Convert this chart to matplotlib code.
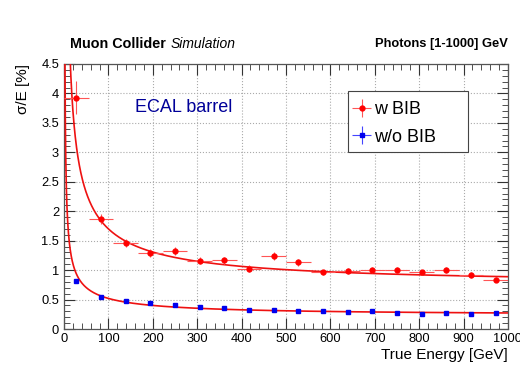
import numpy as np
import matplotlib
matplotlib.use("Agg")
import matplotlib.pyplot as plt
from matplotlib.ticker import MultipleLocator
from matplotlib.patches import Rectangle

plt.rcParams['font.family'] = ['Liberation Sans', 'DejaVu Sans']

# energy bins: 18 bins over [0, 1000] GeV
e_centers = [27.8, 83.3, 138.9, 194.4, 250.0, 305.6, 361.1, 416.7, 472.2,
             527.8, 583.3, 638.9, 694.4, 750.0, 805.6, 861.1, 916.7, 972.2]
e_halfwidth = [27.8] * 18

# resolution with beam-induced background
res_bib = [3.93, 1.87, 1.46, 1.29, 1.32, 1.16, 1.17, 1.02, 1.24,
           1.13, 0.96, 0.99, 1.00, 1.00, 0.96, 1.00, 0.92, 0.84]
res_bib_err = [0.28, 0.09, 0.07, 0.07, 0.07, 0.06, 0.06, 0.06, 0.06,
               0.06, 0.05, 0.05, 0.05, 0.05, 0.05, 0.05, 0.05, 0.05]

# resolution without background
res_nobib = [0.82, 0.55, 0.47, 0.44, 0.40, 0.37, 0.36, 0.33, 0.32,
             0.31, 0.31, 0.29, 0.30, 0.28, 0.25, 0.27, 0.26, 0.28]
res_nobib_err = [0.03, 0.015, 0.012, 0.01, 0.01, 0.01, 0.01, 0.01, 0.01,
                 0.01, 0.01, 0.01, 0.01, 0.01, 0.01, 0.01, 0.01, 0.01]

# fit parameters: sigma/E = a/sqrt(E) (+) b/E (+) c
fit_bib = (15.0, 28.0, 0.75)
fit_nobib = (4.6, 7.0, 0.23)


def resolution(e, a, b, c):
    return np.sqrt(a**2 / e + b**2 / e**2 + c**2)


fig = plt.figure(figsize=(5.2, 3.66), dpi=100)
ax = fig.add_axes([64 / 520, 1 - 329 / 366, 444 / 520, 265 / 366])

e_fit = np.linspace(1, 1000, 3000)
ax.plot(e_fit, resolution(e_fit, *fit_bib), color='#ee1111', lw=1.2, zorder=3)
ax.plot(e_fit, resolution(e_fit, *fit_nobib), color='#ee1111', lw=1.2, zorder=3)

bib_style = dict(fmt='o', ms=3.5, color='#ff0000', ecolor='#ff5555',
                 elinewidth=0.8, capsize=0, zorder=4)
nobib_style = dict(fmt='s', ms=3.5, color='#0000ee', ecolor='#4444ff',
                   elinewidth=0.8, capsize=0, zorder=4)

h_bib = ax.errorbar(e_centers, res_bib, xerr=e_halfwidth, yerr=res_bib_err,
                    **bib_style)
ax.errorbar(e_centers, res_nobib, yerr=res_nobib_err, **nobib_style)
# legend entry for the no-BIB points shows the full cross like the other one
h_nobib = ax.errorbar([np.nan], [np.nan], xerr=[1], yerr=[1], **nobib_style)

ax.set_xlim(0, 1000)
ax.set_ylim(0, 4.5)
ax.xaxis.set_major_locator(MultipleLocator(100))
ax.xaxis.set_minor_locator(MultipleLocator(20))
ax.yaxis.set_major_locator(MultipleLocator(0.5))
ax.yaxis.set_minor_locator(MultipleLocator(0.1))
ax.yaxis.set_major_formatter(plt.FuncFormatter(lambda v, p: f"{v:g}"))
ax.tick_params(which='both', direction='in', top=True, right=True,
               labelsize=9.3, colors='#333333', labelcolor='black')
ax.tick_params(which='major', length=8, width=0.8)
ax.tick_params(which='minor', length=4, width=0.6)
ax.tick_params(axis='x', pad=3)
ax.grid(True, which='major', color='#aaaaaa', ls=':', lw=0.8)
for s in ax.spines.values():
    s.set_color('#555555')
    s.set_linewidth(0.9)

ax.set_xlabel('True Energy [GeV]', fontsize=11, loc='right', labelpad=2)
ax.set_ylabel('σ/E [%]', fontsize=11, loc='top', labelpad=8)

ax.text(0.16, 0.835, 'ECAL barrel', transform=ax.transAxes, fontsize=13,
        color='#000099', va='center')

# legend box drawn separately so it can be wider than its entries
ax.add_patch(Rectangle((0.6396, 0.668), 0.2703, 0.230, transform=ax.transAxes,
                       facecolor='white', edgecolor='#444444', lw=0.8,
                       zorder=5))
leg = ax.legend([h_bib, h_nobib], ['w BIB', 'w/o BIB'], fontsize=13,
                loc='upper left', bbox_to_anchor=(0.6396, 0.869),
                frameon=False, borderpad=0.15, handlelength=1.2,
                handletextpad=0.1, labelspacing=0.57, borderaxespad=0)
leg.set_zorder(6)

fig.text(70 / 520, 1 - 44 / 366, 'Muon Collider', fontsize=10.4,
         fontweight='bold', va='center')
fig.text(171 / 520, 1 - 44 / 366, 'Simulation', fontsize=10,
         fontstyle='italic', va='center')
fig.text(508 / 520, 1 - 44 / 366, 'Photons [1-1000] GeV', fontsize=9.3,
         fontweight='bold', va='center', ha='right')

fig.savefig('out.png', dpi=100)
